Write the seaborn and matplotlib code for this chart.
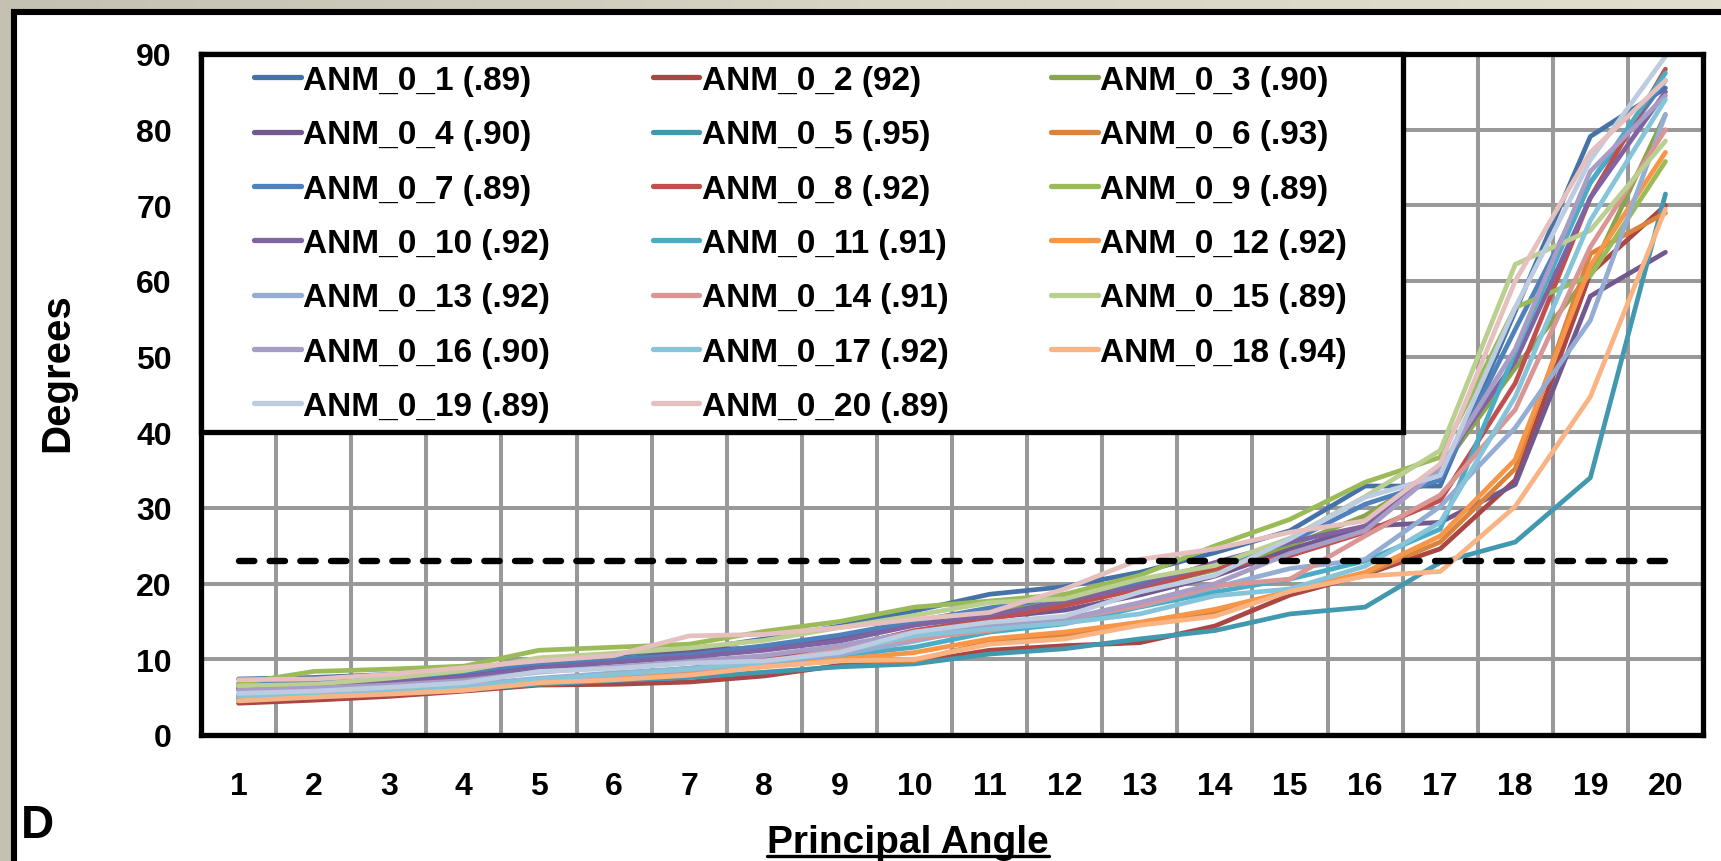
import matplotlib
matplotlib.use("Agg")
import matplotlib.pyplot as plt
import seaborn as sns
import numpy as np
import pandas as pd
from matplotlib.patches import Rectangle
from matplotlib.lines import Line2D
from matplotlib.colors import LinearSegmentedColormap

# ---------------- data ----------------
angles = list(range(1, 21))
series_names = [
    "ANM_0_1 (.89)", "ANM_0_2 (92)", "ANM_0_3 (.90)", "ANM_0_4 (.90)",
    "ANM_0_5 (.95)", "ANM_0_6 (.93)", "ANM_0_7 (.89)", "ANM_0_8 (.92)",
    "ANM_0_9 (.89)", "ANM_0_10 (.92)", "ANM_0_11 (.91)", "ANM_0_12 (.92)",
    "ANM_0_13 (.92)", "ANM_0_14 (.91)", "ANM_0_15 (.89)", "ANM_0_16 (.90)",
    "ANM_0_17 (.92)", "ANM_0_18 (.94)", "ANM_0_19 (.89)", "ANM_0_20 (.89)",
]
series_colors = [
    "#4572A7", "#AA4643", "#89A54E", "#71588F", "#4198AF", "#DB843D",
    "#4F81BD", "#C0504D", "#9BBB59", "#8064A2", "#4BACC6", "#F79646",
    "#93ADD5", "#D99694", "#BACF90", "#A79DC6", "#86C4D9", "#FAB383",
    "#BDCCE1", "#E6C0BF",
]
anm_01 = [7.4, 7.6, 8.0, 8.6, 10.0, 10.5, 11.2, 12.7, 14.4, 16.4, 18.6, 19.6, 21.5, 24.1, 27.0, 32.9, 32.9, 56.0, 79.1, 85.5]
anm_02 = [4.2, 4.6, 5.1, 5.8, 6.6, 6.7, 7.0, 7.8, 9.2, 9.6, 11.2, 11.8, 12.2, 14.4, 18.5, 21.2, 24.6, 33.7, 61.0, 70.0]
anm_03 = [6.5, 7.0, 7.5, 8.2, 9.3, 10.0, 10.8, 11.6, 12.8, 14.6, 16.4, 17.5, 19.5, 21.8, 25.0, 29.0, 35.0, 48.5, 61.0, 82.0]
anm_04 = [6.2, 6.4, 7.0, 7.8, 9.0, 9.8, 11.1, 11.6, 12.7, 14.7, 15.5, 16.5, 18.5, 21.0, 24.5, 27.6, 28.1, 33.1, 58.0, 63.8]
anm_05 = [4.6, 5.0, 5.5, 6.0, 6.7, 7.2, 7.6, 8.3, 9.0, 9.4, 10.7, 11.4, 12.7, 13.8, 16.0, 16.9, 22.8, 25.5, 34.0, 71.5]
anm_06 = [4.8, 5.2, 5.6, 6.2, 7.0, 8.2, 8.4, 9.1, 9.8, 9.8, 12.3, 13.2, 14.6, 16.2, 19.0, 21.3, 25.5, 35.2, 63.6, 69.0]
anm_07 = [6.8, 7.0, 7.5, 8.3, 9.5, 10.0, 10.6, 11.8, 13.2, 15.0, 16.8, 18.2, 20.0, 22.5, 25.5, 30.5, 33.7, 53.6, 73.0, 86.5]
anm_08 = [5.0, 5.5, 6.0, 6.6, 7.4, 8.0, 8.8, 10.0, 11.5, 13.8, 15.3, 17.1, 19.3, 22.0, 23.7, 26.8, 31.0, 46.5, 71.0, 88.0]
anm_09 = [6.8, 8.4, 8.7, 9.1, 11.2, 11.6, 12.0, 13.7, 15.0, 16.9, 17.7, 18.6, 21.1, 25.0, 28.5, 33.4, 36.7, 56.5, 60.7, 75.8]
anm_10 = [6.0, 6.3, 6.9, 7.6, 8.8, 9.6, 10.3, 11.2, 12.4, 14.5, 15.8, 17.7, 19.7, 22.8, 25.5, 27.6, 35.5, 49.4, 71.0, 85.0]
anm_11 = [5.0, 5.3, 5.8, 6.3, 7.2, 7.8, 8.5, 9.3, 10.5, 11.6, 13.6, 14.7, 16.9, 18.9, 20.6, 23.0, 27.2, 50.6, 73.0, 87.5]
anm_12 = [4.7, 5.2, 5.6, 6.0, 7.0, 7.4, 8.0, 9.1, 10.0, 10.9, 12.7, 13.6, 14.9, 16.6, 19.0, 21.5, 26.3, 36.4, 62.0, 77.0]
anm_13 = [5.4, 5.7, 6.1, 6.6, 7.5, 8.2, 8.8, 9.6, 10.6, 12.4, 14.4, 15.3, 17.0, 19.5, 22.0, 23.2, 30.2, 40.6, 54.8, 82.0]
anm_14 = [5.2, 5.5, 5.9, 6.5, 7.3, 8.0, 8.6, 9.5, 11.4, 12.7, 13.8, 15.3, 17.1, 19.7, 20.6, 26.3, 31.7, 43.0, 64.5, 80.0]
anm_15 = [6.5, 6.7, 7.5, 8.5, 10.2, 10.8, 11.5, 12.5, 14.2, 15.8, 17.5, 18.0, 20.6, 22.4, 26.0, 31.5, 37.6, 62.2, 66.7, 78.5]
anm_16 = [5.9, 6.2, 6.6, 7.2, 8.3, 9.0, 9.7, 10.5, 11.8, 13.6, 14.6, 15.3, 17.5, 20.0, 24.0, 27.0, 35.2, 51.0, 74.5, 84.5]
anm_17 = [5.1, 5.4, 5.9, 6.4, 7.4, 8.0, 8.7, 9.6, 11.0, 13.1, 14.0, 14.8, 16.0, 18.4, 19.3, 22.3, 28.1, 44.7, 68.0, 84.0]
anm_18 = [4.5, 5.0, 5.4, 5.9, 6.9, 7.3, 7.9, 9.0, 9.8, 10.0, 12.0, 12.7, 14.5, 15.7, 19.0, 21.0, 21.6, 30.2, 44.7, 69.5]
anm_19 = [5.5, 5.8, 6.3, 6.9, 8.4, 8.8, 9.5, 9.8, 10.9, 13.6, 14.9, 15.7, 18.9, 21.1, 25.9, 31.4, 34.3, 56.5, 76.0, 89.7]
anm_20 = [7.3, 7.4, 8.0, 8.9, 9.8, 10.5, 13.1, 13.3, 14.2, 15.3, 16.2, 19.3, 23.2, 24.6, 26.8, 28.3, 35.8, 60.0, 77.0, 86.5]
all_series = [anm_01, anm_02, anm_03, anm_04, anm_05, anm_06, anm_07, anm_08, anm_09, anm_10,
              anm_11, anm_12, anm_13, anm_14, anm_15, anm_16, anm_17, anm_18, anm_19, anm_20]
threshold = 23
y_ticks = list(range(0, 100, 10))
x_label = "Principal Angle"
y_label = "Degrees"
panel_letter = "D"

# ---------------- style ----------------
sns.set_style("white")
plt.rcParams["font.family"] = ["Liberation Sans", "DejaVu Sans"]
plt.rcParams["font.weight"] = "bold"
plt.rcParams["text.color"] = "black"
plt.rcParams["xtick.color"] = "black"
plt.rcParams["ytick.color"] = "black"
plt.rcParams["xtick.labelcolor"] = "black"
plt.rcParams["ytick.labelcolor"] = "black"

W, H = 1721, 862
fig = plt.figure(figsize=(W / 100, H / 100), dpi=100)

# background gradient
bg = fig.add_axes([0, 0, 1, 1], zorder=-10)
grad = np.linspace(0, 1, 256).reshape(1, -1)
cmap = LinearSegmentedColormap.from_list("bg", ["#c4c0b2", "#d8d4c4", "#e2dece"])
bg.imshow(grad, aspect="auto", cmap=cmap, extent=[0, 1, 0, 1])
bg.axis("off")

# white panel with black border
fig.add_artist(Rectangle((14 / W, -0.05), 1.2, 1 - 13 / H + 0.05, transform=fig.transFigure,
                         facecolor="white", edgecolor="black", linewidth=4.4, zorder=-5))

ax = fig.add_axes([201 / W, 1 - 736 / H, (1703 - 201) / W, (736 - 55) / H])
ax.set_facecolor("white")

for name, col, vals in zip(series_names, series_colors, all_series):
    sns.lineplot(x=angles, y=vals, ax=ax, color=col, linewidth=3.4, label=name,
                 sort=False, zorder=3)
for ln in ax.lines:
    ln.set_solid_capstyle("round")
    ln.set_solid_joinstyle("round")

ax.hlines(threshold, angles[0], angles[-1], colors="black", linewidth=4.6,
          linestyles=(0, (2.4, 2.4)), zorder=3.5, capstyle="round")

ax.set_xlim(0.5, 20.5)
ax.set_ylim(0, 90)
ax.set_xticks(angles)
ax.set_xticks([a + 0.5 for a in angles[:-1]], minor=True)
ax.set_yticks(y_ticks)
ax.grid(False)
ax.grid(True, which="minor", axis="x", color="#999999", linewidth=2.9)
ax.grid(True, which="major", axis="y", color="#999999", linewidth=2.9)
ax.set_axisbelow(True)
ax.tick_params(axis="both", which="major", direction="in", length=5, width=2.8,
               labelsize=23, color="black", labelcolor="black")
ax.tick_params(axis="x", which="major", pad=26)
ax.tick_params(axis="y", which="major", pad=21)
ax.tick_params(axis="x", which="minor", length=0)
for lab in ax.get_xticklabels() + ax.get_yticklabels():
    lab.set_fontweight("bold")
for sp in ax.spines.values():
    sp.set_color("black")
    sp.set_linewidth(3.8)
    sp.set_zorder(4)
ax.set_xlabel("")
ax.set_ylabel("")

# legend box
ax.add_patch(Rectangle((0.5, 40), 16, 50, facecolor="white", edgecolor="black",
                       linewidth=3.8, zorder=4.5, clip_on=False, joinstyle="miter"))
handles, labels = ax.get_legend_handles_labels()
if ax.get_legend():
    ax.get_legend().remove()
order = [i for c in range(3) for i in range(c, 20, 3)]
leg = ax.legend([handles[i] for i in order], [labels[i] for i in order], ncol=3,
                loc="upper left", bbox_to_anchor=(254 / W, 1 - 66 / H),
                bbox_transform=fig.transFigure, frameon=False, borderpad=0,
                fontsize=24, handlelength=1.4, handletextpad=0.08, columnspacing=3.07,
                labelspacing=0.70, borderaxespad=0)
leg.set_zorder(6)
for t in leg.get_texts():
    t.set_fontweight("bold")
    t.set_color("black")
for lh in leg.get_lines():
    lh.set_linewidth(3.8)
    lh.set_solid_capstyle("round")

# axis titles and panel letter
fig.text(57 / W, 1 - 373 / H, y_label, rotation=90, ha="center", va="center",
         fontsize=29, fontweight="bold", color="black")
xt = fig.text(908 / W, 1 - 853 / H, x_label, ha="center", va="baseline",
              fontsize=28, fontweight="bold", color="black")
fig.text(21 / W, 1 - 838 / H, panel_letter, ha="left", va="baseline",
         fontsize=33, fontweight="bold", color="black")

fig.canvas.draw()
bb = xt.get_window_extent(fig.canvas.get_renderer())
uy = (1 - 853 / H) - 4 / H
fig.add_artist(Line2D([bb.x0 / W, bb.x1 / W], [uy, uy], transform=fig.transFigure,
                      color="black", linewidth=2.4))

fig.savefig("out.png", dpi=100)
